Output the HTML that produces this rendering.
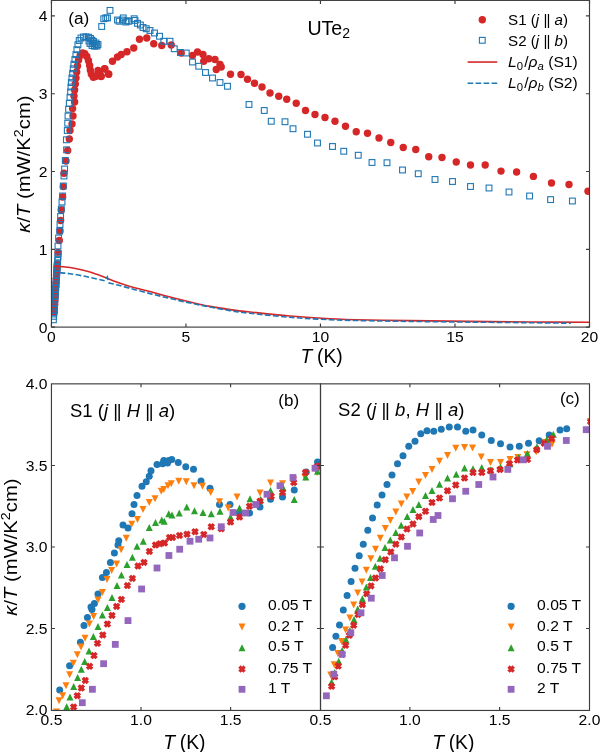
<!DOCTYPE html>
<html><head><meta charset="utf-8"><title>UTe2 thermal conductivity</title>
<style>html,body{margin:0;padding:0;background:#fff;}svg{display:block;will-change:transform;}text{font-family:"Liberation Sans", sans-serif;}</style>
</head><body><svg width="600" height="752" viewBox="0 0 600 752" font-family='"Liberation Sans", sans-serif' fill="#000"><clipPath id="ca"><rect x="51.45" y="0.4" width="538.05" height="326.7"/></clipPath><g clip-path="url(#ca)"><circle cx="54.2" cy="312" r="3.7" fill="#d62728"/><circle cx="54.42" cy="308.31" r="3.7" fill="#d62728"/><circle cx="54.63" cy="304.61" r="3.7" fill="#d62728"/><circle cx="54.85" cy="300.92" r="3.7" fill="#d62728"/><circle cx="55.08" cy="297.23" r="3.7" fill="#d62728"/><circle cx="55.31" cy="293.53" r="3.7" fill="#d62728"/><circle cx="55.55" cy="289.84" r="3.7" fill="#d62728"/><circle cx="55.79" cy="286.15" r="3.7" fill="#d62728"/><circle cx="56.02" cy="282.46" r="3.7" fill="#d62728"/><circle cx="56.26" cy="278.76" r="3.7" fill="#d62728"/><circle cx="56.5" cy="275.07" r="3.7" fill="#d62728"/><circle cx="56.74" cy="271.38" r="3.7" fill="#d62728"/><circle cx="56.99" cy="267.69" r="3.7" fill="#d62728"/><circle cx="57.23" cy="264" r="3.7" fill="#d62728"/><circle cx="58" cy="252.4" r="3.7" fill="#d62728"/><circle cx="59.3" cy="240.5" r="3.7" fill="#d62728"/><circle cx="60" cy="231" r="3.7" fill="#d62728"/><circle cx="60.6" cy="220.5" r="3.7" fill="#d62728"/><circle cx="61.3" cy="210" r="3.7" fill="#d62728"/><circle cx="62.6" cy="197" r="3.7" fill="#d62728"/><circle cx="63.3" cy="186.6" r="3.7" fill="#d62728"/><circle cx="64" cy="173.3" r="3.7" fill="#d62728"/><circle cx="66" cy="161" r="3.7" fill="#d62728"/><circle cx="67.7" cy="150.5" r="3.7" fill="#d62728"/><circle cx="69.3" cy="139" r="3.7" fill="#d62728"/><circle cx="70" cy="130.5" r="3.7" fill="#d62728"/><circle cx="72" cy="124" r="3.7" fill="#d62728"/><circle cx="73" cy="116" r="3.7" fill="#d62728"/><circle cx="72.6" cy="108.6" r="3.7" fill="#d62728"/><circle cx="74.6" cy="102" r="3.7" fill="#d62728"/><circle cx="74" cy="96" r="3.7" fill="#d62728"/><circle cx="74.6" cy="90" r="3.7" fill="#d62728"/><circle cx="75.3" cy="84" r="3.7" fill="#d62728"/><circle cx="76" cy="78" r="3.7" fill="#d62728"/><circle cx="76.7" cy="72" r="3.7" fill="#d62728"/><circle cx="77.5" cy="66" r="3.7" fill="#d62728"/><circle cx="78.6" cy="60" r="3.7" fill="#d62728"/><circle cx="80.2" cy="55.5" r="3.7" fill="#d62728"/><circle cx="82.7" cy="53" r="3.7" fill="#d62728"/><circle cx="84.8" cy="53.8" r="3.7" fill="#d62728"/><circle cx="86.8" cy="56.5" r="3.7" fill="#d62728"/><circle cx="88.5" cy="60.8" r="3.7" fill="#d62728"/><circle cx="89.6" cy="65.5" r="3.7" fill="#d62728"/><circle cx="90.3" cy="70" r="3.7" fill="#d62728"/><circle cx="91.3" cy="74" r="3.7" fill="#d62728"/><circle cx="93.3" cy="77.2" r="3.7" fill="#d62728"/><circle cx="95.5" cy="76.5" r="3.7" fill="#d62728"/><circle cx="98" cy="70.5" r="3.7" fill="#d62728"/><circle cx="101" cy="76.5" r="3.7" fill="#d62728"/><circle cx="99.5" cy="74" r="3.7" fill="#d62728"/><circle cx="105" cy="69" r="3.7" fill="#d62728"/><circle cx="104.5" cy="68.75" r="3.7" fill="#d62728"/><circle cx="108.5" cy="74" r="3.7" fill="#d62728"/><circle cx="101.25" cy="76.25" r="3.7" fill="#d62728"/><circle cx="108.75" cy="74.25" r="3.7" fill="#d62728"/><circle cx="112.5" cy="61.25" r="3.7" fill="#d62728"/><circle cx="117.5" cy="57" r="3.7" fill="#d62728"/><circle cx="121.25" cy="54.5" r="3.7" fill="#d62728"/><circle cx="127" cy="51.75" r="3.7" fill="#d62728"/><circle cx="133.75" cy="48" r="3.7" fill="#d62728"/><circle cx="139.5" cy="39.25" r="3.7" fill="#d62728"/><circle cx="146.75" cy="38" r="3.7" fill="#d62728"/><circle cx="153.75" cy="43.75" r="3.7" fill="#d62728"/><circle cx="161.75" cy="45.5" r="3.7" fill="#d62728"/><circle cx="171.25" cy="45" r="3.7" fill="#d62728"/><circle cx="181.25" cy="53" r="3.7" fill="#d62728"/><circle cx="192.5" cy="55.5" r="3.7" fill="#d62728"/><circle cx="197.5" cy="52" r="3.7" fill="#d62728"/><circle cx="203" cy="54.5" r="3.7" fill="#d62728"/><circle cx="203.75" cy="61.25" r="3.7" fill="#d62728"/><circle cx="208.75" cy="58.75" r="3.7" fill="#d62728"/><circle cx="215" cy="59.5" r="3.7" fill="#d62728"/><circle cx="220" cy="64.5" r="3.7" fill="#d62728"/><circle cx="216.25" cy="69.5" r="3.7" fill="#d62728"/><circle cx="221.25" cy="67" r="3.7" fill="#d62728"/><circle cx="230.5" cy="74.25" r="3.7" fill="#d62728"/><circle cx="241" cy="74.5" r="3.7" fill="#d62728"/><circle cx="247.5" cy="79.25" r="3.7" fill="#d62728"/><circle cx="254.5" cy="83.25" r="3.7" fill="#d62728"/><circle cx="262" cy="87" r="3.7" fill="#d62728"/><circle cx="270" cy="93" r="3.7" fill="#d62728"/><circle cx="278.75" cy="96.25" r="3.7" fill="#d62728"/><circle cx="286.75" cy="99.25" r="3.7" fill="#d62728"/><circle cx="296.25" cy="103.25" r="3.7" fill="#d62728"/><circle cx="305.5" cy="110.5" r="3.7" fill="#d62728"/><circle cx="315" cy="114.5" r="3.7" fill="#d62728"/><circle cx="325" cy="117.5" r="3.7" fill="#d62728"/><circle cx="335" cy="121.25" r="3.7" fill="#d62728"/><circle cx="345.5" cy="126.25" r="3.7" fill="#d62728"/><circle cx="356.25" cy="131.75" r="3.7" fill="#d62728"/><circle cx="367.5" cy="133.25" r="3.7" fill="#d62728"/><circle cx="379" cy="138" r="3.7" fill="#d62728"/><circle cx="390.75" cy="142.5" r="3.7" fill="#d62728"/><circle cx="403.25" cy="147.5" r="3.7" fill="#d62728"/><circle cx="415.75" cy="149.5" r="3.7" fill="#d62728"/><circle cx="428.75" cy="156.75" r="3.7" fill="#d62728"/><circle cx="442" cy="157.5" r="3.7" fill="#d62728"/><circle cx="456.25" cy="162" r="3.7" fill="#d62728"/><circle cx="470.5" cy="165" r="3.7" fill="#d62728"/><circle cx="485.2" cy="165" r="3.7" fill="#d62728"/><circle cx="501" cy="171.1" r="3.7" fill="#d62728"/><circle cx="516.6" cy="172" r="3.7" fill="#d62728"/><circle cx="533.4" cy="176.4" r="3.7" fill="#d62728"/><circle cx="551.5" cy="183" r="3.7" fill="#d62728"/><circle cx="569" cy="184.5" r="3.7" fill="#d62728"/><circle cx="588" cy="191.2" r="3.7" fill="#d62728"/><rect x="50.5" y="316.9" width="5.8" height="5.8" fill="none" stroke="#1f77b4" stroke-width="1.1"/><rect x="50.75" y="313.41" width="5.8" height="5.8" fill="none" stroke="#1f77b4" stroke-width="1.1"/><rect x="51" y="309.92" width="5.8" height="5.8" fill="none" stroke="#1f77b4" stroke-width="1.1"/><rect x="51.26" y="306.43" width="5.8" height="5.8" fill="none" stroke="#1f77b4" stroke-width="1.1"/><rect x="51.51" y="302.94" width="5.8" height="5.8" fill="none" stroke="#1f77b4" stroke-width="1.1"/><rect x="51.76" y="299.45" width="5.8" height="5.8" fill="none" stroke="#1f77b4" stroke-width="1.1"/><rect x="52.01" y="295.95" width="5.8" height="5.8" fill="none" stroke="#1f77b4" stroke-width="1.1"/><rect x="52.27" y="292.46" width="5.8" height="5.8" fill="none" stroke="#1f77b4" stroke-width="1.1"/><rect x="52.52" y="288.97" width="5.8" height="5.8" fill="none" stroke="#1f77b4" stroke-width="1.1"/><rect x="52.77" y="285.48" width="5.8" height="5.8" fill="none" stroke="#1f77b4" stroke-width="1.1"/><rect x="53.02" y="281.99" width="5.8" height="5.8" fill="none" stroke="#1f77b4" stroke-width="1.1"/><rect x="53.28" y="278.5" width="5.8" height="5.8" fill="none" stroke="#1f77b4" stroke-width="1.1"/><rect x="53.53" y="275.01" width="5.8" height="5.8" fill="none" stroke="#1f77b4" stroke-width="1.1"/><rect x="53.78" y="271.52" width="5.8" height="5.8" fill="none" stroke="#1f77b4" stroke-width="1.1"/><rect x="54.03" y="268.03" width="5.8" height="5.8" fill="none" stroke="#1f77b4" stroke-width="1.1"/><rect x="54.28" y="264.54" width="5.8" height="5.8" fill="none" stroke="#1f77b4" stroke-width="1.1"/><rect x="54.54" y="261.05" width="5.8" height="5.8" fill="none" stroke="#1f77b4" stroke-width="1.1"/><rect x="54.79" y="257.55" width="5.8" height="5.8" fill="none" stroke="#1f77b4" stroke-width="1.1"/><rect x="55.04" y="254.06" width="5.8" height="5.8" fill="none" stroke="#1f77b4" stroke-width="1.1"/><rect x="55.29" y="250.57" width="5.8" height="5.8" fill="none" stroke="#1f77b4" stroke-width="1.1"/><rect x="55.1" y="243.1" width="5.8" height="5.8" fill="none" stroke="#1f77b4" stroke-width="1.1"/><rect x="55.7" y="235.1" width="5.8" height="5.8" fill="none" stroke="#1f77b4" stroke-width="1.1"/><rect x="56.8" y="228.1" width="5.8" height="5.8" fill="none" stroke="#1f77b4" stroke-width="1.1"/><rect x="57.1" y="221.6" width="5.8" height="5.8" fill="none" stroke="#1f77b4" stroke-width="1.1"/><rect x="57.7" y="213.6" width="5.8" height="5.8" fill="none" stroke="#1f77b4" stroke-width="1.1"/><rect x="58.4" y="206.1" width="5.8" height="5.8" fill="none" stroke="#1f77b4" stroke-width="1.1"/><rect x="59.1" y="199.1" width="5.8" height="5.8" fill="none" stroke="#1f77b4" stroke-width="1.1"/><rect x="59.7" y="193.1" width="5.8" height="5.8" fill="none" stroke="#1f77b4" stroke-width="1.1"/><rect x="60.4" y="183.1" width="5.8" height="5.8" fill="none" stroke="#1f77b4" stroke-width="1.1"/><rect x="61.1" y="173.1" width="5.8" height="5.8" fill="none" stroke="#1f77b4" stroke-width="1.1"/><rect x="61.7" y="166.1" width="5.8" height="5.8" fill="none" stroke="#1f77b4" stroke-width="1.1"/><rect x="62.4" y="157.6" width="5.8" height="5.8" fill="none" stroke="#1f77b4" stroke-width="1.1"/><rect x="63.7" y="146.9" width="5.8" height="5.8" fill="none" stroke="#1f77b4" stroke-width="1.1"/><rect x="63.5" y="136.9" width="5.8" height="5.8" fill="none" stroke="#1f77b4" stroke-width="1.1"/><rect x="64.4" y="127.6" width="5.8" height="5.8" fill="none" stroke="#1f77b4" stroke-width="1.1"/><rect x="64.8" y="120.3" width="5.8" height="5.8" fill="none" stroke="#1f77b4" stroke-width="1.1"/><rect x="65.1" y="113.1" width="5.8" height="5.8" fill="none" stroke="#1f77b4" stroke-width="1.1"/><rect x="65.7" y="106.4" width="5.8" height="5.8" fill="none" stroke="#1f77b4" stroke-width="1.1"/><rect x="66.4" y="100.4" width="5.8" height="5.8" fill="none" stroke="#1f77b4" stroke-width="1.1"/><rect x="67.1" y="94.4" width="5.8" height="5.8" fill="none" stroke="#1f77b4" stroke-width="1.1"/><rect x="67.7" y="89.1" width="5.8" height="5.8" fill="none" stroke="#1f77b4" stroke-width="1.1"/><rect x="68.1" y="84.1" width="5.8" height="5.8" fill="none" stroke="#1f77b4" stroke-width="1.1"/><rect x="68.4" y="79.7" width="5.8" height="5.8" fill="none" stroke="#1f77b4" stroke-width="1.1"/><rect x="69" y="75.1" width="5.8" height="5.8" fill="none" stroke="#1f77b4" stroke-width="1.1"/><rect x="69.7" y="70.5" width="5.8" height="5.8" fill="none" stroke="#1f77b4" stroke-width="1.1"/><rect x="70.3" y="65.9" width="5.8" height="5.8" fill="none" stroke="#1f77b4" stroke-width="1.1"/><rect x="71" y="61.35" width="5.8" height="5.8" fill="none" stroke="#1f77b4" stroke-width="1.1"/><rect x="72" y="56.6" width="5.8" height="5.8" fill="none" stroke="#1f77b4" stroke-width="1.1"/><rect x="73" y="51.8" width="5.8" height="5.8" fill="none" stroke="#1f77b4" stroke-width="1.1"/><rect x="74" y="46.8" width="5.8" height="5.8" fill="none" stroke="#1f77b4" stroke-width="1.1"/><rect x="75" y="41.8" width="5.8" height="5.8" fill="none" stroke="#1f77b4" stroke-width="1.1"/><rect x="76.3" y="37.6" width="5.8" height="5.8" fill="none" stroke="#1f77b4" stroke-width="1.1"/><rect x="78.1" y="35.1" width="5.8" height="5.8" fill="none" stroke="#1f77b4" stroke-width="1.1"/><rect x="80.6" y="34.1" width="5.8" height="5.8" fill="none" stroke="#1f77b4" stroke-width="1.1"/><rect x="83.1" y="33.9" width="5.8" height="5.8" fill="none" stroke="#1f77b4" stroke-width="1.1"/><rect x="85.6" y="34.3" width="5.8" height="5.8" fill="none" stroke="#1f77b4" stroke-width="1.1"/><rect x="87.6" y="35.6" width="5.8" height="5.8" fill="none" stroke="#1f77b4" stroke-width="1.1"/><rect x="89.1" y="37.3" width="5.8" height="5.8" fill="none" stroke="#1f77b4" stroke-width="1.1"/><rect x="90.6" y="38.6" width="5.8" height="5.8" fill="none" stroke="#1f77b4" stroke-width="1.1"/><rect x="93.1" y="40.1" width="5.8" height="5.8" fill="none" stroke="#1f77b4" stroke-width="1.1"/><rect x="95.1" y="41.6" width="5.8" height="5.8" fill="none" stroke="#1f77b4" stroke-width="1.1"/><rect x="94.1" y="43.1" width="5.8" height="5.8" fill="none" stroke="#1f77b4" stroke-width="1.1"/><rect x="91.6" y="43.3" width="5.8" height="5.8" fill="none" stroke="#1f77b4" stroke-width="1.1"/><rect x="89.1" y="42.6" width="5.8" height="5.8" fill="none" stroke="#1f77b4" stroke-width="1.1"/><rect x="87.1" y="40.6" width="5.8" height="5.8" fill="none" stroke="#1f77b4" stroke-width="1.1"/><rect x="86.1" y="38.1" width="5.8" height="5.8" fill="none" stroke="#1f77b4" stroke-width="1.1"/><rect x="90.1" y="40.6" width="5.8" height="5.8" fill="none" stroke="#1f77b4" stroke-width="1.1"/><rect x="93.1" y="42.1" width="5.8" height="5.8" fill="none" stroke="#1f77b4" stroke-width="1.1"/><rect x="98.8" y="23.6" width="5.8" height="5.8" fill="none" stroke="#1f77b4" stroke-width="1.1"/><rect x="100.85" y="15.85" width="5.8" height="5.8" fill="none" stroke="#1f77b4" stroke-width="1.1"/><rect x="102.9" y="15" width="5.8" height="5.8" fill="none" stroke="#1f77b4" stroke-width="1.1"/><rect x="104.6" y="15" width="5.8" height="5.8" fill="none" stroke="#1f77b4" stroke-width="1.1"/><rect x="107.1" y="7.5" width="5.8" height="5.8" fill="none" stroke="#1f77b4" stroke-width="1.1"/><rect x="114.6" y="17.1" width="5.8" height="5.8" fill="none" stroke="#1f77b4" stroke-width="1.1"/><rect x="116.3" y="18.35" width="5.8" height="5.8" fill="none" stroke="#1f77b4" stroke-width="1.1"/><rect x="120.4" y="15" width="5.8" height="5.8" fill="none" stroke="#1f77b4" stroke-width="1.1"/><rect x="119.6" y="17.1" width="5.8" height="5.8" fill="none" stroke="#1f77b4" stroke-width="1.1"/><rect x="122.9" y="19.1" width="5.8" height="5.8" fill="none" stroke="#1f77b4" stroke-width="1.1"/><rect x="124.1" y="17.9" width="5.8" height="5.8" fill="none" stroke="#1f77b4" stroke-width="1.1"/><rect x="125.85" y="18.35" width="5.8" height="5.8" fill="none" stroke="#1f77b4" stroke-width="1.1"/><rect x="131.3" y="15.85" width="5.8" height="5.8" fill="none" stroke="#1f77b4" stroke-width="1.1"/><rect x="132.1" y="17.5" width="5.8" height="5.8" fill="none" stroke="#1f77b4" stroke-width="1.1"/><rect x="134.6" y="20.4" width="5.8" height="5.8" fill="none" stroke="#1f77b4" stroke-width="1.1"/><rect x="137.5" y="22.1" width="5.8" height="5.8" fill="none" stroke="#1f77b4" stroke-width="1.1"/><rect x="140.1" y="24.6" width="5.8" height="5.8" fill="none" stroke="#1f77b4" stroke-width="1.1"/><rect x="143.35" y="25.85" width="5.8" height="5.8" fill="none" stroke="#1f77b4" stroke-width="1.1"/><rect x="147.1" y="27.6" width="5.8" height="5.8" fill="none" stroke="#1f77b4" stroke-width="1.1"/><rect x="151.6" y="30.1" width="5.8" height="5.8" fill="none" stroke="#1f77b4" stroke-width="1.1"/><rect x="156.6" y="33.35" width="5.8" height="5.8" fill="none" stroke="#1f77b4" stroke-width="1.1"/><rect x="160.85" y="38.35" width="5.8" height="5.8" fill="none" stroke="#1f77b4" stroke-width="1.1"/><rect x="167.1" y="38.35" width="5.8" height="5.8" fill="none" stroke="#1f77b4" stroke-width="1.1"/><rect x="171.35" y="45.85" width="5.8" height="5.8" fill="none" stroke="#1f77b4" stroke-width="1.1"/><rect x="177.6" y="49.6" width="5.8" height="5.8" fill="none" stroke="#1f77b4" stroke-width="1.1"/><rect x="183.35" y="50.1" width="5.8" height="5.8" fill="none" stroke="#1f77b4" stroke-width="1.1"/><rect x="189.6" y="59.1" width="5.8" height="5.8" fill="none" stroke="#1f77b4" stroke-width="1.1"/><rect x="195.85" y="63.35" width="5.8" height="5.8" fill="none" stroke="#1f77b4" stroke-width="1.1"/><rect x="202.6" y="69.6" width="5.8" height="5.8" fill="none" stroke="#1f77b4" stroke-width="1.1"/><rect x="209.6" y="75.1" width="5.8" height="5.8" fill="none" stroke="#1f77b4" stroke-width="1.1"/><rect x="217.1" y="79.6" width="5.8" height="5.8" fill="none" stroke="#1f77b4" stroke-width="1.1"/><rect x="224.6" y="83.35" width="5.8" height="5.8" fill="none" stroke="#1f77b4" stroke-width="1.1"/><rect x="246.1" y="101.6" width="5.8" height="5.8" fill="none" stroke="#1f77b4" stroke-width="1.1"/><rect x="261.35" y="107.6" width="5.8" height="5.8" fill="none" stroke="#1f77b4" stroke-width="1.1"/><rect x="268.35" y="118.35" width="5.8" height="5.8" fill="none" stroke="#1f77b4" stroke-width="1.1"/><rect x="282.1" y="118.85" width="5.8" height="5.8" fill="none" stroke="#1f77b4" stroke-width="1.1"/><rect x="290.1" y="125.85" width="5.8" height="5.8" fill="none" stroke="#1f77b4" stroke-width="1.1"/><rect x="304.6" y="131.35" width="5.8" height="5.8" fill="none" stroke="#1f77b4" stroke-width="1.1"/><rect x="314.6" y="140.1" width="5.8" height="5.8" fill="none" stroke="#1f77b4" stroke-width="1.1"/><rect x="329.6" y="143.6" width="5.8" height="5.8" fill="none" stroke="#1f77b4" stroke-width="1.1"/><rect x="340.85" y="148.35" width="5.8" height="5.8" fill="none" stroke="#1f77b4" stroke-width="1.1"/><rect x="355.35" y="152.35" width="5.8" height="5.8" fill="none" stroke="#1f77b4" stroke-width="1.1"/><rect x="369.1" y="159.6" width="5.8" height="5.8" fill="none" stroke="#1f77b4" stroke-width="1.1"/><rect x="384.1" y="159.85" width="5.8" height="5.8" fill="none" stroke="#1f77b4" stroke-width="1.1"/><rect x="399.6" y="167.1" width="5.8" height="5.8" fill="none" stroke="#1f77b4" stroke-width="1.1"/><rect x="415.35" y="170.85" width="5.8" height="5.8" fill="none" stroke="#1f77b4" stroke-width="1.1"/><rect x="432.1" y="176.6" width="5.8" height="5.8" fill="none" stroke="#1f77b4" stroke-width="1.1"/><rect x="449.6" y="178.6" width="5.8" height="5.8" fill="none" stroke="#1f77b4" stroke-width="1.1"/><rect x="467.6" y="183.6" width="5.8" height="5.8" fill="none" stroke="#1f77b4" stroke-width="1.1"/><rect x="486.1" y="185.1" width="5.8" height="5.8" fill="none" stroke="#1f77b4" stroke-width="1.1"/><rect x="506.1" y="189.1" width="5.8" height="5.8" fill="none" stroke="#1f77b4" stroke-width="1.1"/><rect x="526.7" y="193.1" width="5.8" height="5.8" fill="none" stroke="#1f77b4" stroke-width="1.1"/><rect x="547.7" y="196.7" width="5.8" height="5.8" fill="none" stroke="#1f77b4" stroke-width="1.1"/><rect x="569.5" y="198.1" width="5.8" height="5.8" fill="none" stroke="#1f77b4" stroke-width="1.1"/><path d="M53.5 266.3C55.13 266.37 59.43 266.3 63.3 266.7C67.17 267.1 72.25 267.82 76.7 268.7C81.15 269.58 85.57 270.67 90 272C94.43 273.33 98.85 275.03 103.3 276.7C107.75 278.37 112.25 280.38 116.7 282C121.15 283.62 124.45 284.8 130 286.4C135.55 288 143.33 289.83 150 291.6C156.67 293.37 163.33 295.27 170 297C176.67 298.73 183.33 300.43 190 302C196.67 303.57 203.33 305.13 210 306.4C216.67 307.67 223.33 308.67 230 309.6C236.67 310.53 240 310.93 250 312C260 313.07 276.67 314.88 290 316C303.33 317.12 316.67 318.03 330 318.7C343.33 319.37 356.67 319.68 370 320C383.33 320.32 393.33 320.37 410 320.6C426.67 320.83 450 321.17 470 321.4C490 321.63 510.08 321.85 530 322C549.92 322.15 579.58 322.25 589.5 322.3" fill="none" stroke="#d62728" stroke-width="1.6"/><path d="M59.8 272.7C61.5 272.87 66.08 273.15 70 273.7C73.92 274.25 78.85 275.12 83.3 276C87.75 276.88 93.13 278.22 96.7 279C100.27 279.78 103.37 280.42 104.7 280.7L107.3 276.9L108.9 282.9C110.2 283.2 113.18 283.8 116.7 284.7C120.22 285.6 124.45 286.82 130 288.3C135.55 289.78 143.33 291.92 150 293.6C156.67 295.28 163.33 296.83 170 298.4C176.67 299.97 183.33 301.57 190 303C196.67 304.43 203.33 305.73 210 307C216.67 308.27 223.33 309.55 230 310.6C236.67 311.65 240 312.18 250 313.3C260 314.42 276.67 316.23 290 317.3C303.33 318.37 316.67 319.12 330 319.7C343.33 320.28 356.67 320.52 370 320.8C383.33 321.08 393.33 321.18 410 321.4C426.67 321.62 450 321.88 470 322.1C490 322.32 513.2 322.52 530 322.7C546.8 322.88 564 323.12 570.8 323.2" fill="none" stroke="#1f77b4" stroke-width="1.6" stroke-dasharray="5.6 2.4"/></g><rect x="51.45" y="0.4" width="538.05" height="326.7" fill="none" stroke="#3d3d3d" stroke-width="1.15"/><path d="M51.45 327.1v-3.5M51.45 0.4v3.5M185.95 327.1v-3.5M185.95 0.4v3.5M320.45 327.1v-3.5M320.45 0.4v3.5M455 327.1v-3.5M455 0.4v3.5M589.5 327.1v-3.5M589.5 0.4v3.5M51.45 327.1h3.5M589.5 327.1h-3.5M51.45 249.3h3.5M589.5 249.3h-3.5M51.45 171.5h3.5M589.5 171.5h-3.5M51.45 93.7h3.5M589.5 93.7h-3.5M51.45 15.9h3.5M589.5 15.9h-3.5" stroke="#3d3d3d" stroke-width="1.15" fill="none"/><text transform="translate(51.45 341.5) scale(1.08 1)" font-size="14.5" text-anchor="middle" >0</text><text transform="translate(185.95 341.5) scale(1.08 1)" font-size="14.5" text-anchor="middle" >5</text><text transform="translate(320.45 341.5) scale(1.08 1)" font-size="14.5" text-anchor="middle" >10</text><text transform="translate(455 341.5) scale(1.08 1)" font-size="14.5" text-anchor="middle" >15</text><text transform="translate(589.5 341.5) scale(1.08 1)" font-size="14.5" text-anchor="middle" >20</text><text transform="translate(47.4 332.5) scale(1.08 1)" font-size="14.5" text-anchor="end" >0</text><text transform="translate(47.4 254.7) scale(1.08 1)" font-size="14.5" text-anchor="end" >1</text><text transform="translate(47.4 176.9) scale(1.08 1)" font-size="14.5" text-anchor="end" >2</text><text transform="translate(47.4 99.1) scale(1.08 1)" font-size="14.5" text-anchor="end" >3</text><text transform="translate(47.4 21.3) scale(1.08 1)" font-size="14.5" text-anchor="end" >4</text><text x="321.6" y="362.9" font-size="19.3" text-anchor="middle" ><tspan font-style="italic">T</tspan><tspan dx="-0.6"> (K)</tspan></text><text transform="translate(30.2 164.1) rotate(-90) scale(1.095 1)" font-size="18.5" text-anchor="middle"><tspan font-style="italic">κ</tspan>/<tspan font-style="italic">T</tspan> (mW/K<tspan font-size="13" dy="-7">2</tspan><tspan dy="7">cm)</tspan></text><text x="68.2" y="23.9" font-size="17.3" text-anchor="start" >(a)</text><text x="307.4" y="34.6" font-size="19.6">UTe<tspan font-size="14" dy="3.3">2</tspan></text><circle cx="482.3" cy="19.7" r="3.7" fill="#d62728"/><rect x="479.4" y="37.4" width="5.8" height="5.8" fill="none" stroke="#1f77b4" stroke-width="1.1"/><path d="M467.6 62.05H497.3" stroke="#d62728" stroke-width="1.6"/><path d="M467.6 83.25H497.3" stroke="#1f77b4" stroke-width="1.6" stroke-dasharray="5.6 2.4"/><text transform="translate(508.1 25.2) scale(1.045 1)" font-size="14.5">S1 (<tspan font-style="italic">j</tspan> |<tspan dx="-0.9">|</tspan> <tspan font-style="italic">a</tspan>)</text><text transform="translate(508.1 45.8) scale(1.045 1)" font-size="14.5">S2 (<tspan font-style="italic">j</tspan> |<tspan dx="-0.9">|</tspan> <tspan font-style="italic">b</tspan>)</text><text transform="translate(508.1 67.3) scale(1.08 1)" font-size="14.5"><tspan font-style="italic">L</tspan><tspan font-size="10.5" dy="2.5">0</tspan><tspan dy="-2.5" dx="1">/</tspan><tspan font-style="italic">ρ</tspan><tspan font-style="italic" font-size="10.5" dy="2.5">a</tspan><tspan dy="-2.5"> (S1)</tspan></text><text transform="translate(508.1 88.1) scale(1.08 1)" font-size="14.5"><tspan font-style="italic">L</tspan><tspan font-size="10.5" dy="2.5">0</tspan><tspan dy="-2.5" dx="1">/</tspan><tspan font-style="italic">ρ</tspan><tspan font-style="italic" font-size="10.5" dy="2.5">b</tspan><tspan dy="-2.5"> (S2)</tspan></text><clipPath id="cb0"><rect x="51.45" y="383.85" width="269.05" height="326.6"/></clipPath><g clip-path="url(#cb0)"><circle cx="59.7" cy="690" r="3.5" fill="#1f77b4"/><circle cx="69.6" cy="665.7" r="3.5" fill="#1f77b4"/><circle cx="80.4" cy="642.3" r="3.5" fill="#1f77b4"/><circle cx="84" cy="625.4" r="3.5" fill="#1f77b4"/><circle cx="87.4" cy="617.4" r="3.5" fill="#1f77b4"/><circle cx="91" cy="607" r="3.5" fill="#1f77b4"/><circle cx="92" cy="609.6" r="3.5" fill="#1f77b4"/><circle cx="94.4" cy="603.6" r="3.5" fill="#1f77b4"/><circle cx="98" cy="594" r="3.5" fill="#1f77b4"/><circle cx="102.4" cy="577.6" r="3.5" fill="#1f77b4"/><circle cx="106.4" cy="572.4" r="3.5" fill="#1f77b4"/><circle cx="110.4" cy="562.4" r="3.5" fill="#1f77b4"/><circle cx="114.4" cy="553" r="3.5" fill="#1f77b4"/><circle cx="118" cy="545" r="3.5" fill="#1f77b4"/><circle cx="118.75" cy="540.75" r="3.5" fill="#1f77b4"/><circle cx="123" cy="525" r="3.5" fill="#1f77b4"/><circle cx="128" cy="528" r="3.5" fill="#1f77b4"/><circle cx="132" cy="513.75" r="3.5" fill="#1f77b4"/><circle cx="134" cy="504.5" r="3.5" fill="#1f77b4"/><circle cx="137" cy="495.5" r="3.5" fill="#1f77b4"/><circle cx="142" cy="486.25" r="3.5" fill="#1f77b4"/><circle cx="146.25" cy="481.75" r="3.5" fill="#1f77b4"/><circle cx="149.25" cy="476.25" r="3.5" fill="#1f77b4"/><circle cx="151" cy="470.75" r="3.5" fill="#1f77b4"/><circle cx="157" cy="464.5" r="3.5" fill="#1f77b4"/><circle cx="162.5" cy="463.75" r="3.5" fill="#1f77b4"/><circle cx="163.75" cy="460.5" r="3.5" fill="#1f77b4"/><circle cx="167.5" cy="463" r="3.5" fill="#1f77b4"/><circle cx="168.75" cy="460.5" r="3.5" fill="#1f77b4"/><circle cx="171.75" cy="459.5" r="3.5" fill="#1f77b4"/><circle cx="178.25" cy="462.5" r="3.5" fill="#1f77b4"/><circle cx="185.75" cy="466.75" r="3.5" fill="#1f77b4"/><circle cx="193.5" cy="469.25" r="3.5" fill="#1f77b4"/><circle cx="201" cy="481" r="3.5" fill="#1f77b4"/><circle cx="210" cy="488.25" r="3.5" fill="#1f77b4"/><circle cx="219.5" cy="504.5" r="3.5" fill="#1f77b4"/><circle cx="230" cy="504.5" r="3.5" fill="#1f77b4"/><circle cx="239.25" cy="512.5" r="3.5" fill="#1f77b4"/><circle cx="249.5" cy="513" r="3.5" fill="#1f77b4"/><circle cx="260" cy="507" r="3.5" fill="#1f77b4"/><circle cx="270.5" cy="499.25" r="3.5" fill="#1f77b4"/><circle cx="282.5" cy="497" r="3.5" fill="#1f77b4"/><circle cx="294.25" cy="490" r="3.5" fill="#1f77b4"/><circle cx="306.25" cy="472" r="3.5" fill="#1f77b4"/><circle cx="317.5" cy="462" r="3.5" fill="#1f77b4"/><path d="M53 708.5H60L56.5 715.5Z" fill="#ff7f0e"/><path d="M55.5 697.2H62.5L59 704.2Z" fill="#ff7f0e"/><path d="M59.2 692.2H66.2L62.7 699.2Z" fill="#ff7f0e"/><path d="M62.5 682.2H69.5L66 689.2Z" fill="#ff7f0e"/><path d="M66.1 671.2H73.1L69.6 678.2Z" fill="#ff7f0e"/><path d="M69.8 659.8H76.8L73.3 666.8Z" fill="#ff7f0e"/><path d="M73.8 651.2H80.8L77.3 658.2Z" fill="#ff7f0e"/><path d="M77.5 643.5H84.5L81 650.5Z" fill="#ff7f0e"/><path d="M81.5 634.8H88.5L85 641.8Z" fill="#ff7f0e"/><path d="M85.9 620.5H92.9L89.4 627.5Z" fill="#ff7f0e"/><path d="M90.1 613.1H97.1L93.6 620.1Z" fill="#ff7f0e"/><path d="M94.5 596.5H101.5L98 603.5Z" fill="#ff7f0e"/><path d="M98.9 588.9H105.9L102.4 595.9Z" fill="#ff7f0e"/><path d="M103.5 576.1H110.5L107 583.1Z" fill="#ff7f0e"/><path d="M108.1 567.1H115.1L111.6 574.1Z" fill="#ff7f0e"/><path d="M113.1 560.5H120.1L116.6 567.5Z" fill="#ff7f0e"/><path d="M117.6 546.3H124.6L121.1 553.3Z" fill="#ff7f0e"/><path d="M122.75 534.75H129.75L126.25 541.75Z" fill="#ff7f0e"/><path d="M128.25 520.75H135.25L131.75 527.75Z" fill="#ff7f0e"/><path d="M134 516H141L137.5 523Z" fill="#ff7f0e"/><path d="M139.5 506H146.5L143 513Z" fill="#ff7f0e"/><path d="M145.75 499H152.75L149.25 506Z" fill="#ff7f0e"/><path d="M151.5 495.25H158.5L155 502.25Z" fill="#ff7f0e"/><path d="M157.75 487.75H164.75L161.25 494.75Z" fill="#ff7f0e"/><path d="M160.25 486H167.25L163.75 493Z" fill="#ff7f0e"/><path d="M164.5 482.25H171.5L168 489.25Z" fill="#ff7f0e"/><path d="M167.75 480.25H174.75L171.25 487.25Z" fill="#ff7f0e"/><path d="M175.25 477.75H182.25L178.75 484.75Z" fill="#ff7f0e"/><path d="M182.75 478.25H189.75L186.25 485.25Z" fill="#ff7f0e"/><path d="M190.5 482.25H197.5L194 489.25Z" fill="#ff7f0e"/><path d="M199 482.75H206L202.5 489.75Z" fill="#ff7f0e"/><path d="M207.25 489H214.25L210.75 496Z" fill="#ff7f0e"/><path d="M216 498.25H223L219.5 505.25Z" fill="#ff7f0e"/><path d="M224.75 504.5H231.75L228.25 511.5Z" fill="#ff7f0e"/><path d="M233.5 493.5H240.5L237 500.5Z" fill="#ff7f0e"/><path d="M256.5 489.5H263.5L260 496.5Z" fill="#ff7f0e"/><path d="M267 479.5H274L270.5 486.5Z" fill="#ff7f0e"/><path d="M279 480.25H286L282.5 487.25Z" fill="#ff7f0e"/><path d="M290.25 476.5H297.25L293.75 483.5Z" fill="#ff7f0e"/><path d="M301.5 474H308.5L305 481Z" fill="#ff7f0e"/><path d="M313.5 469H320.5L317 476Z" fill="#ff7f0e"/><path d="M63.2 710.2H70.2L66.7 703.2Z" fill="#2ca02c"/><path d="M66.5 700.5H73.5L70 693.5Z" fill="#2ca02c"/><path d="M70.2 689.9H77.2L73.7 682.9Z" fill="#2ca02c"/><path d="M74.1 681.1H81.1L77.6 674.1Z" fill="#2ca02c"/><path d="M77.8 672.8H84.8L81.3 665.8Z" fill="#2ca02c"/><path d="M81.2 665.1H88.2L84.7 658.1Z" fill="#2ca02c"/><path d="M85.5 654.5H92.5L89 647.5Z" fill="#2ca02c"/><path d="M89.9 640.1H96.9L93.4 633.1Z" fill="#2ca02c"/><path d="M94.5 629.9H101.5L98 622.9Z" fill="#2ca02c"/><path d="M98.9 618.5H105.9L102.4 611.5Z" fill="#2ca02c"/><path d="M103.9 610.9H110.9L107.4 603.9Z" fill="#2ca02c"/><path d="M108.5 601.1H115.5L112 594.1Z" fill="#2ca02c"/><path d="M113.5 588.9H120.5L117 581.9Z" fill="#2ca02c"/><path d="M117.9 578.5H124.9L121.4 571.5Z" fill="#2ca02c"/><path d="M123.5 567.9H130.5L127 560.9Z" fill="#2ca02c"/><path d="M128.9 560.7H135.9L132.4 553.7Z" fill="#2ca02c"/><path d="M133.5 549.75H140.5L137 542.75Z" fill="#2ca02c"/><path d="M139.75 544.75H146.75L143.25 537.75Z" fill="#2ca02c"/><path d="M145.75 531H152.75L149.25 524Z" fill="#2ca02c"/><path d="M152 526H159L155.5 519Z" fill="#2ca02c"/><path d="M158.25 523.5H165.25L161.75 516.5Z" fill="#2ca02c"/><path d="M160.75 524.75H167.75L164.25 517.75Z" fill="#2ca02c"/><path d="M165.25 517.25H172.25L168.75 510.25Z" fill="#2ca02c"/><path d="M168.5 518.5H175.5L172 511.5Z" fill="#2ca02c"/><path d="M175.75 516.5H182.75L179.25 509.5Z" fill="#2ca02c"/><path d="M183.25 510.5H190.25L186.75 503.5Z" fill="#2ca02c"/><path d="M191 514.25H198L194.5 507.25Z" fill="#2ca02c"/><path d="M199.5 516H206.5L203 509Z" fill="#2ca02c"/><path d="M207.75 517.25H214.75L211.25 510.25Z" fill="#2ca02c"/><path d="M216.5 514.75H223.5L220 507.75Z" fill="#2ca02c"/><path d="M227 520.5H234L230.5 513.5Z" fill="#2ca02c"/><path d="M236 511.5H243L239.5 504.5Z" fill="#2ca02c"/><path d="M246.5 502.25H253.5L250 495.25Z" fill="#2ca02c"/><path d="M257 503H264L260.5 496Z" fill="#2ca02c"/><path d="M267 494H274L270.5 487Z" fill="#2ca02c"/><path d="M279.5 491H286.5L283 484Z" fill="#2ca02c"/><path d="M290.75 503H297.75L294.25 496Z" fill="#2ca02c"/><path d="M302.25 480.5H309.25L305.75 473.5Z" fill="#2ca02c"/><path d="M314 474.75H321L317.5 467.75Z" fill="#2ca02c"/><path d="M72.17 704.15 L73.6 705.58 L75.02 704.15 L76.45 705.58 L75.02 707 L76.45 708.42 L75.02 709.85 L73.6 708.42 L72.17 709.85 L70.75 708.42 L72.17 707 L70.75 705.58Z" fill="#d62728" stroke="#d62728" stroke-width="1.3" stroke-linejoin="miter"/><path d="M75.88 692.85 L77.3 694.28 L78.72 692.85 L80.15 694.28 L78.72 695.7 L80.15 697.12 L78.72 698.55 L77.3 697.12 L75.88 698.55 L74.45 697.12 L75.88 695.7 L74.45 694.28Z" fill="#d62728" stroke="#d62728" stroke-width="1.3" stroke-linejoin="miter"/><path d="M79.88 685.15 L81.3 686.58 L82.72 685.15 L84.15 686.58 L82.72 688 L84.15 689.42 L82.72 690.85 L81.3 689.42 L79.88 690.85 L78.45 689.42 L79.88 688 L78.45 686.58Z" fill="#d62728" stroke="#d62728" stroke-width="1.3" stroke-linejoin="miter"/><path d="M83.88 677.55 L85.3 678.98 L86.72 677.55 L88.15 678.98 L86.72 680.4 L88.15 681.82 L86.72 683.25 L85.3 681.82 L83.88 683.25 L82.45 681.82 L83.88 680.4 L82.45 678.98Z" fill="#d62728" stroke="#d62728" stroke-width="1.3" stroke-linejoin="miter"/><path d="M88.17 663.45 L89.6 664.88 L91.02 663.45 L92.45 664.88 L91.02 666.3 L92.45 667.72 L91.02 669.15 L89.6 667.72 L88.17 669.15 L86.75 667.72 L88.17 666.3 L86.75 664.88Z" fill="#d62728" stroke="#d62728" stroke-width="1.3" stroke-linejoin="miter"/><path d="M92.58 652.75 L94 654.18 L95.42 652.75 L96.85 654.18 L95.42 655.6 L96.85 657.02 L95.42 658.45 L94 657.02 L92.58 658.45 L91.15 657.02 L92.58 655.6 L91.15 654.18Z" fill="#d62728" stroke="#d62728" stroke-width="1.3" stroke-linejoin="miter"/><path d="M96.08 640.45 L97.5 641.88 L98.92 640.45 L100.35 641.88 L98.92 643.3 L100.35 644.72 L98.92 646.15 L97.5 644.72 L96.08 646.15 L94.65 644.72 L96.08 643.3 L94.65 641.88Z" fill="#d62728" stroke="#d62728" stroke-width="1.3" stroke-linejoin="miter"/><path d="M101.38 632.15 L102.8 633.58 L104.22 632.15 L105.65 633.58 L104.22 635 L105.65 636.42 L104.22 637.85 L102.8 636.42 L101.38 637.85 L99.95 636.42 L101.38 635 L99.95 633.58Z" fill="#d62728" stroke="#d62728" stroke-width="1.3" stroke-linejoin="miter"/><path d="M105.98 621.15 L107.4 622.58 L108.83 621.15 L110.25 622.58 L108.83 624 L110.25 625.42 L108.83 626.85 L107.4 625.42 L105.98 626.85 L104.55 625.42 L105.98 624 L104.55 622.58Z" fill="#d62728" stroke="#d62728" stroke-width="1.3" stroke-linejoin="miter"/><path d="M110.58 612.55 L112 613.98 L113.42 612.55 L114.85 613.98 L113.42 615.4 L114.85 616.82 L113.42 618.25 L112 616.82 L110.58 618.25 L109.15 616.82 L110.58 615.4 L109.15 613.98Z" fill="#d62728" stroke="#d62728" stroke-width="1.3" stroke-linejoin="miter"/><path d="M115.17 603.55 L116.6 604.98 L118.02 603.55 L119.45 604.98 L118.02 606.4 L119.45 607.82 L118.02 609.25 L116.6 607.82 L115.17 609.25 L113.75 607.82 L115.17 606.4 L113.75 604.98Z" fill="#d62728" stroke="#d62728" stroke-width="1.3" stroke-linejoin="miter"/><path d="M119.98 596.55 L121.4 597.98 L122.83 596.55 L124.25 597.98 L122.83 599.4 L124.25 600.82 L122.83 602.25 L121.4 600.82 L119.98 602.25 L118.55 600.82 L119.98 599.4 L118.55 597.98Z" fill="#d62728" stroke="#d62728" stroke-width="1.3" stroke-linejoin="miter"/><path d="M125.98 582.75 L127.4 584.18 L128.83 582.75 L130.25 584.18 L128.83 585.6 L130.25 587.02 L128.83 588.45 L127.4 587.02 L125.98 588.45 L124.55 587.02 L125.98 585.6 L124.55 584.18Z" fill="#d62728" stroke="#d62728" stroke-width="1.3" stroke-linejoin="miter"/><path d="M130.97 575.55 L132.4 576.98 L133.83 575.55 L135.25 576.98 L133.83 578.4 L135.25 579.82 L133.83 581.25 L132.4 579.82 L130.97 581.25 L129.55 579.82 L130.97 578.4 L129.55 576.98Z" fill="#d62728" stroke="#d62728" stroke-width="1.3" stroke-linejoin="miter"/><path d="M136.57 563.15 L138 564.58 L139.43 563.15 L140.85 564.58 L139.43 566 L140.85 567.42 L139.43 568.85 L138 567.42 L136.57 568.85 L135.15 567.42 L136.57 566 L135.15 564.58Z" fill="#d62728" stroke="#d62728" stroke-width="1.3" stroke-linejoin="miter"/><path d="M142.57 559.55 L144 560.98 L145.43 559.55 L146.85 560.98 L145.43 562.4 L146.85 563.82 L145.43 565.25 L144 563.82 L142.57 565.25 L141.15 563.82 L142.57 562.4 L141.15 560.98Z" fill="#d62728" stroke="#d62728" stroke-width="1.3" stroke-linejoin="miter"/><path d="M147.97 548.55 L149.4 549.98 L150.83 548.55 L152.25 549.98 L150.83 551.4 L152.25 552.82 L150.83 554.25 L149.4 552.82 L147.97 554.25 L146.55 552.82 L147.97 551.4 L146.55 549.98Z" fill="#d62728" stroke="#d62728" stroke-width="1.3" stroke-linejoin="miter"/><path d="M154.07 542.15 L155.5 543.58 L156.93 542.15 L158.35 543.58 L156.93 545 L158.35 546.42 L156.93 547.85 L155.5 546.42 L154.07 547.85 L152.65 546.42 L154.07 545 L152.65 543.58Z" fill="#d62728" stroke="#d62728" stroke-width="1.3" stroke-linejoin="miter"/><path d="M158.57 540.9 L160 542.33 L161.43 540.9 L162.85 542.33 L161.43 543.75 L162.85 545.17 L161.43 546.6 L160 545.17 L158.57 546.6 L157.15 545.17 L158.57 543.75 L157.15 542.33Z" fill="#d62728" stroke="#d62728" stroke-width="1.3" stroke-linejoin="miter"/><path d="M163.07 540.15 L164.5 541.58 L165.93 540.15 L167.35 541.58 L165.93 543 L167.35 544.42 L165.93 545.85 L164.5 544.42 L163.07 545.85 L161.65 544.42 L163.07 543 L161.65 541.58Z" fill="#d62728" stroke="#d62728" stroke-width="1.3" stroke-linejoin="miter"/><path d="M168.07 534.65 L169.5 536.08 L170.93 534.65 L172.35 536.08 L170.93 537.5 L172.35 538.92 L170.93 540.35 L169.5 538.92 L168.07 540.35 L166.65 538.92 L168.07 537.5 L166.65 536.08Z" fill="#d62728" stroke="#d62728" stroke-width="1.3" stroke-linejoin="miter"/><path d="M171.07 534.65 L172.5 536.08 L173.93 534.65 L175.35 536.08 L173.93 537.5 L175.35 538.92 L173.93 540.35 L172.5 538.92 L171.07 540.35 L169.65 538.92 L171.07 537.5 L169.65 536.08Z" fill="#d62728" stroke="#d62728" stroke-width="1.3" stroke-linejoin="miter"/><path d="M178.07 532.65 L179.5 534.08 L180.93 532.65 L182.35 534.08 L180.93 535.5 L182.35 536.92 L180.93 538.35 L179.5 536.92 L178.07 538.35 L176.65 536.92 L178.07 535.5 L176.65 534.08Z" fill="#d62728" stroke="#d62728" stroke-width="1.3" stroke-linejoin="miter"/><path d="M185.57 531.4 L187 532.83 L188.43 531.4 L189.85 532.83 L188.43 534.25 L189.85 535.67 L188.43 537.1 L187 535.67 L185.57 537.1 L184.15 535.67 L185.57 534.25 L184.15 532.83Z" fill="#d62728" stroke="#d62728" stroke-width="1.3" stroke-linejoin="miter"/><path d="M193.57 528.9 L195 530.33 L196.43 528.9 L197.85 530.33 L196.43 531.75 L197.85 533.17 L196.43 534.6 L195 533.17 L193.57 534.6 L192.15 533.17 L193.57 531.75 L192.15 530.33Z" fill="#d62728" stroke="#d62728" stroke-width="1.3" stroke-linejoin="miter"/><path d="M202.32 531.65 L203.75 533.08 L205.18 531.65 L206.6 533.08 L205.18 534.5 L206.6 535.92 L205.18 537.35 L203.75 535.92 L202.32 537.35 L200.9 535.92 L202.32 534.5 L200.9 533.08Z" fill="#d62728" stroke="#d62728" stroke-width="1.3" stroke-linejoin="miter"/><path d="M209.82 523.9 L211.25 525.33 L212.68 523.9 L214.1 525.33 L212.68 526.75 L214.1 528.17 L212.68 529.6 L211.25 528.17 L209.82 529.6 L208.4 528.17 L209.82 526.75 L208.4 525.33Z" fill="#d62728" stroke="#d62728" stroke-width="1.3" stroke-linejoin="miter"/><path d="M219.82 525.9 L221.25 527.33 L222.68 525.9 L224.1 527.33 L222.68 528.75 L224.1 530.17 L222.68 531.6 L221.25 530.17 L219.82 531.6 L218.4 530.17 L219.82 528.75 L218.4 527.33Z" fill="#d62728" stroke="#d62728" stroke-width="1.3" stroke-linejoin="miter"/><path d="M229.07 519.15 L230.5 520.58 L231.93 519.15 L233.35 520.58 L231.93 522 L233.35 523.42 L231.93 524.85 L230.5 523.42 L229.07 524.85 L227.65 523.42 L229.07 522 L227.65 520.58Z" fill="#d62728" stroke="#d62728" stroke-width="1.3" stroke-linejoin="miter"/><path d="M238.07 514.15 L239.5 515.58 L240.93 514.15 L242.35 515.58 L240.93 517 L242.35 518.42 L240.93 519.85 L239.5 518.42 L238.07 519.85 L236.65 518.42 L238.07 517 L236.65 515.58Z" fill="#d62728" stroke="#d62728" stroke-width="1.3" stroke-linejoin="miter"/><path d="M248.07 503.4 L249.5 504.82 L250.93 503.4 L252.35 504.82 L250.93 506.25 L252.35 507.68 L250.93 509.1 L249.5 507.68 L248.07 509.1 L246.65 507.68 L248.07 506.25 L246.65 504.82Z" fill="#d62728" stroke="#d62728" stroke-width="1.3" stroke-linejoin="miter"/><path d="M258.57 498.4 L260 499.82 L261.43 498.4 L262.85 499.82 L261.43 501.25 L262.85 502.68 L261.43 504.1 L260 502.68 L258.57 504.1 L257.15 502.68 L258.57 501.25 L257.15 499.82Z" fill="#d62728" stroke="#d62728" stroke-width="1.3" stroke-linejoin="miter"/><path d="M269.82 493.4 L271.25 494.82 L272.68 493.4 L274.1 494.82 L272.68 496.25 L274.1 497.68 L272.68 499.1 L271.25 497.68 L269.82 499.1 L268.4 497.68 L269.82 496.25 L268.4 494.82Z" fill="#d62728" stroke="#d62728" stroke-width="1.3" stroke-linejoin="miter"/><path d="M281.07 489.65 L282.5 491.07 L283.93 489.65 L285.35 491.07 L283.93 492.5 L285.35 493.93 L283.93 495.35 L282.5 493.93 L281.07 495.35 L279.65 493.93 L281.07 492.5 L279.65 491.07Z" fill="#d62728" stroke="#d62728" stroke-width="1.3" stroke-linejoin="miter"/><path d="M292.32 479.65 L293.75 481.07 L295.18 479.65 L296.6 481.07 L295.18 482.5 L296.6 483.93 L295.18 485.35 L293.75 483.93 L292.32 485.35 L290.9 483.93 L292.32 482.5 L290.9 481.07Z" fill="#d62728" stroke="#d62728" stroke-width="1.3" stroke-linejoin="miter"/><path d="M304.07 469.65 L305.5 471.07 L306.93 469.65 L308.35 471.07 L306.93 472.5 L308.35 473.93 L306.93 475.35 L305.5 473.93 L304.07 475.35 L302.65 473.93 L304.07 472.5 L302.65 471.07Z" fill="#d62728" stroke="#d62728" stroke-width="1.3" stroke-linejoin="miter"/><path d="M316.07 463.4 L317.5 464.82 L318.93 463.4 L320.35 464.82 L318.93 466.25 L320.35 467.68 L318.93 469.1 L317.5 467.68 L316.07 469.1 L314.65 467.68 L316.07 466.25 L314.65 464.82Z" fill="#d62728" stroke="#d62728" stroke-width="1.3" stroke-linejoin="miter"/><rect x="78.9" y="699.3" width="6.8" height="6.8" fill="#9467bd"/><rect x="89" y="685.9" width="6.8" height="6.8" fill="#9467bd"/><rect x="100.2" y="660.3" width="6.8" height="6.8" fill="#9467bd"/><rect x="111.9" y="641" width="6.8" height="6.8" fill="#9467bd"/><rect x="124.6" y="617.2" width="6.8" height="6.8" fill="#9467bd"/><rect x="138.2" y="585.6" width="6.8" height="6.8" fill="#9467bd"/><rect x="153.6" y="564.6" width="6.8" height="6.8" fill="#9467bd"/><rect x="165.5" y="552.1" width="6.8" height="6.8" fill="#9467bd"/><rect x="176.3" y="545.85" width="6.8" height="6.8" fill="#9467bd"/><rect x="186.6" y="537.85" width="6.8" height="6.8" fill="#9467bd"/><rect x="195.3" y="535.85" width="6.8" height="6.8" fill="#9467bd"/><rect x="206.6" y="534.6" width="6.8" height="6.8" fill="#9467bd"/><rect x="217.85" y="523.35" width="6.8" height="6.8" fill="#9467bd"/><rect x="229.6" y="509.1" width="6.8" height="6.8" fill="#9467bd"/><rect x="242.1" y="509.6" width="6.8" height="6.8" fill="#9467bd"/><rect x="252.35" y="501.1" width="6.8" height="6.8" fill="#9467bd"/><rect x="263.6" y="490.85" width="6.8" height="6.8" fill="#9467bd"/><rect x="276.6" y="482.35" width="6.8" height="6.8" fill="#9467bd"/><rect x="289.6" y="474.1" width="6.8" height="6.8" fill="#9467bd"/><rect x="311.6" y="464.85" width="6.8" height="6.8" fill="#9467bd"/></g><clipPath id="cb1"><rect x="320.5" y="383.85" width="269" height="326.6"/></clipPath><g clip-path="url(#cb1)"><circle cx="332.6" cy="647.4" r="3.5" fill="#1f77b4"/><circle cx="335.9" cy="636.2" r="3.5" fill="#1f77b4"/><circle cx="339.5" cy="625" r="3.5" fill="#1f77b4"/><circle cx="343.3" cy="609.9" r="3.5" fill="#1f77b4"/><circle cx="347.1" cy="595.6" r="3.5" fill="#1f77b4"/><circle cx="351.1" cy="581.4" r="3.5" fill="#1f77b4"/><circle cx="355" cy="568.3" r="3.5" fill="#1f77b4"/><circle cx="359.2" cy="555.8" r="3.5" fill="#1f77b4"/><circle cx="363.3" cy="544.2" r="3.5" fill="#1f77b4"/><circle cx="367.8" cy="530.3" r="3.5" fill="#1f77b4"/><circle cx="372.5" cy="518" r="3.5" fill="#1f77b4"/><circle cx="377.2" cy="505" r="3.5" fill="#1f77b4"/><circle cx="382" cy="495" r="3.5" fill="#1f77b4"/><circle cx="387" cy="484.5" r="3.5" fill="#1f77b4"/><circle cx="392" cy="475" r="3.5" fill="#1f77b4"/><circle cx="397.5" cy="463.75" r="3.5" fill="#1f77b4"/><circle cx="403" cy="455.75" r="3.5" fill="#1f77b4"/><circle cx="408.75" cy="446.25" r="3.5" fill="#1f77b4"/><circle cx="415" cy="441.25" r="3.5" fill="#1f77b4"/><circle cx="420.75" cy="433.75" r="3.5" fill="#1f77b4"/><circle cx="427" cy="430.75" r="3.5" fill="#1f77b4"/><circle cx="433.75" cy="431.25" r="3.5" fill="#1f77b4"/><circle cx="441.25" cy="429.25" r="3.5" fill="#1f77b4"/><circle cx="449.25" cy="427" r="3.5" fill="#1f77b4"/><circle cx="457.5" cy="427" r="3.5" fill="#1f77b4"/><circle cx="465.75" cy="431.25" r="3.5" fill="#1f77b4"/><circle cx="473" cy="430" r="3.5" fill="#1f77b4"/><circle cx="481.75" cy="435" r="3.5" fill="#1f77b4"/><circle cx="491.25" cy="440.5" r="3.5" fill="#1f77b4"/><circle cx="500.5" cy="443.75" r="3.5" fill="#1f77b4"/><circle cx="510" cy="447" r="3.5" fill="#1f77b4"/><circle cx="519.25" cy="446.25" r="3.5" fill="#1f77b4"/><circle cx="528.5" cy="443.2" r="3.5" fill="#1f77b4"/><circle cx="539.2" cy="440.8" r="3.5" fill="#1f77b4"/><circle cx="549.2" cy="435" r="3.5" fill="#1f77b4"/><circle cx="560" cy="430" r="3.5" fill="#1f77b4"/><circle cx="566.7" cy="428.8" r="3.5" fill="#1f77b4"/><path d="M327.2 671.6H334.2L330.7 678.6Z" fill="#ff7f0e"/><path d="M330.7 661.2H337.7L334.2 668.2Z" fill="#ff7f0e"/><path d="M334.3 650H341.3L337.8 657Z" fill="#ff7f0e"/><path d="M338.1 637.9H345.1L341.6 644.9Z" fill="#ff7f0e"/><path d="M342.1 626.6H349.1L345.6 633.6Z" fill="#ff7f0e"/><path d="M346.4 614.5H353.4L349.9 621.5Z" fill="#ff7f0e"/><path d="M350.2 601.5H357.2L353.7 608.5Z" fill="#ff7f0e"/><path d="M354.2 589.5H361.2L357.7 596.5Z" fill="#ff7f0e"/><path d="M358.5 578.5H365.5L362 585.5Z" fill="#ff7f0e"/><path d="M362.8 566.8H369.8L366.3 573.8Z" fill="#ff7f0e"/><path d="M367.3 555.3H374.3L370.8 562.3Z" fill="#ff7f0e"/><path d="M372 545.7H379L375.5 552.7Z" fill="#ff7f0e"/><path d="M376.8 534.8H383.8L380.3 541.8Z" fill="#ff7f0e"/><path d="M381.8 525H388.8L385.3 532Z" fill="#ff7f0e"/><path d="M386.9 516.9H393.9L390.4 523.9Z" fill="#ff7f0e"/><path d="M392.3 508.5H399.3L395.8 515.5Z" fill="#ff7f0e"/><path d="M397.8 500.5H404.8L401.3 507.5Z" fill="#ff7f0e"/><path d="M403.3 493.5H410.3L406.8 500.5Z" fill="#ff7f0e"/><path d="M409.2 488.1H416.2L412.7 495.1Z" fill="#ff7f0e"/><path d="M415.25 478.5H422.25L418.75 485.5Z" fill="#ff7f0e"/><path d="M422 472H429L425.5 479Z" fill="#ff7f0e"/><path d="M428.5 466H435.5L432 473Z" fill="#ff7f0e"/><path d="M436 457.75H443L439.5 464.75Z" fill="#ff7f0e"/><path d="M444 452H451L447.5 459Z" fill="#ff7f0e"/><path d="M452.25 444.75H459.25L455.75 451.75Z" fill="#ff7f0e"/><path d="M461 444H468L464.5 451Z" fill="#ff7f0e"/><path d="M469 444.5H476L472.5 451.5Z" fill="#ff7f0e"/><path d="M477.75 453.5H484.75L481.25 460.5Z" fill="#ff7f0e"/><path d="M487 459H494L490.5 466Z" fill="#ff7f0e"/><path d="M497 459H504L500.5 466Z" fill="#ff7f0e"/><path d="M506.5 456H513.5L510 463Z" fill="#ff7f0e"/><path d="M514.3 454.1H521.3L517.8 461.1Z" fill="#ff7f0e"/><path d="M523.5 451.2H530.5L527 458.2Z" fill="#ff7f0e"/><path d="M532.8 448.2H539.8L536.3 455.2Z" fill="#ff7f0e"/><path d="M542.3 439H549.3L545.8 446Z" fill="#ff7f0e"/><path d="M548.5 440.7H555.5L552 447.7Z" fill="#ff7f0e"/><path d="M586.8 418.2H593.8L590.3 425.2Z" fill="#ff7f0e"/><path d="M328.1 685.5H335.1L331.6 678.5Z" fill="#2ca02c"/><path d="M331.2 676H338.2L334.7 669Z" fill="#2ca02c"/><path d="M335.2 664.7H342.2L338.7 657.7Z" fill="#2ca02c"/><path d="M338.6 654H345.6L342.1 647Z" fill="#2ca02c"/><path d="M342.4 643.1H349.4L345.9 636.1Z" fill="#2ca02c"/><path d="M346.4 634H353.4L349.9 627Z" fill="#2ca02c"/><path d="M350.5 622.9H357.5L354 615.9Z" fill="#2ca02c"/><path d="M354.2 612.5H361.2L357.7 605.5Z" fill="#2ca02c"/><path d="M358.9 602.2H365.9L362.4 595.2Z" fill="#2ca02c"/><path d="M362.8 590.4H369.8L366.3 583.4Z" fill="#2ca02c"/><path d="M367 581H374L370.5 574Z" fill="#2ca02c"/><path d="M371.8 569.8H378.8L375.3 562.8Z" fill="#2ca02c"/><path d="M376.5 561.8H383.5L380 554.8Z" fill="#2ca02c"/><path d="M381.5 551H388.5L385 544Z" fill="#2ca02c"/><path d="M386.8 543.5H393.8L390.3 536.5Z" fill="#2ca02c"/><path d="M392.3 536H399.3L395.8 529Z" fill="#2ca02c"/><path d="M397.7 528.7H404.7L401.2 521.7Z" fill="#2ca02c"/><path d="M403.7 520.1H410.7L407.2 513.1Z" fill="#2ca02c"/><path d="M409.5 513H416.5L413 506Z" fill="#2ca02c"/><path d="M415.3 508H422.3L418.8 501Z" fill="#2ca02c"/><path d="M422 499H429L425.5 492Z" fill="#2ca02c"/><path d="M428.5 494H435.5L432 487Z" fill="#2ca02c"/><path d="M436 487.75H443L439.5 480.75Z" fill="#2ca02c"/><path d="M444 481.5H451L447.5 474.5Z" fill="#2ca02c"/><path d="M452.75 477.75H459.75L456.25 470.75Z" fill="#2ca02c"/><path d="M461 471.5H468L464.5 464.5Z" fill="#2ca02c"/><path d="M469.5 472.25H476.5L473 465.25Z" fill="#2ca02c"/><path d="M478.25 471H485.25L481.75 464Z" fill="#2ca02c"/><path d="M487 473.5H494L490.5 466.5Z" fill="#2ca02c"/><path d="M497 470.5H504L500.5 463.5Z" fill="#2ca02c"/><path d="M506.5 467.25H513.5L510 460.25Z" fill="#2ca02c"/><path d="M515.25 461H522.25L518.75 454Z" fill="#2ca02c"/><path d="M523.8 457H530.8L527.3 450Z" fill="#2ca02c"/><path d="M533.5 450.2H540.5L537 443.2Z" fill="#2ca02c"/><path d="M543.2 443.2H550.2L546.7 436.2Z" fill="#2ca02c"/><path d="M549.8 437.7H556.8L553.3 430.7Z" fill="#2ca02c"/><path d="M330.18 683.45 L331.6 684.88 L333.03 683.45 L334.45 684.88 L333.03 686.3 L334.45 687.72 L333.03 689.15 L331.6 687.72 L330.18 689.15 L328.75 687.72 L330.18 686.3 L328.75 684.88Z" fill="#d62728" stroke="#d62728" stroke-width="1.3" stroke-linejoin="miter"/><path d="M333.27 673.95 L334.7 675.38 L336.12 673.95 L337.55 675.38 L336.12 676.8 L337.55 678.22 L336.12 679.65 L334.7 678.22 L333.27 679.65 L331.85 678.22 L333.27 676.8 L331.85 675.38Z" fill="#d62728" stroke="#d62728" stroke-width="1.3" stroke-linejoin="miter"/><path d="M336.77 663.25 L338.2 664.68 L339.62 663.25 L341.05 664.68 L339.62 666.1 L341.05 667.52 L339.62 668.95 L338.2 667.52 L336.77 668.95 L335.35 667.52 L336.77 666.1 L335.35 664.68Z" fill="#d62728" stroke="#d62728" stroke-width="1.3" stroke-linejoin="miter"/><path d="M340.57 651.45 L342 652.88 L343.43 651.45 L344.85 652.88 L343.43 654.3 L344.85 655.72 L343.43 657.15 L342 655.72 L340.57 657.15 L339.15 655.72 L340.57 654.3 L339.15 652.88Z" fill="#d62728" stroke="#d62728" stroke-width="1.3" stroke-linejoin="miter"/><path d="M344.18 642.45 L345.6 643.88 L347.03 642.45 L348.45 643.88 L347.03 645.3 L348.45 646.72 L347.03 648.15 L345.6 646.72 L344.18 648.15 L342.75 646.72 L344.18 645.3 L342.75 643.88Z" fill="#d62728" stroke="#d62728" stroke-width="1.3" stroke-linejoin="miter"/><path d="M347.97 632.45 L349.4 633.88 L350.82 632.45 L352.25 633.88 L350.82 635.3 L352.25 636.72 L350.82 638.15 L349.4 636.72 L347.97 638.15 L346.55 636.72 L347.97 635.3 L346.55 633.88Z" fill="#d62728" stroke="#d62728" stroke-width="1.3" stroke-linejoin="miter"/><path d="M352.27 622.45 L353.7 623.88 L355.12 622.45 L356.55 623.88 L355.12 625.3 L356.55 626.72 L355.12 628.15 L353.7 626.72 L352.27 628.15 L350.85 626.72 L352.27 625.3 L350.85 623.88Z" fill="#d62728" stroke="#d62728" stroke-width="1.3" stroke-linejoin="miter"/><path d="M356.57 611.75 L358 613.18 L359.43 611.75 L360.85 613.18 L359.43 614.6 L360.85 616.02 L359.43 617.45 L358 616.02 L356.57 617.45 L355.15 616.02 L356.57 614.6 L355.15 613.18Z" fill="#d62728" stroke="#d62728" stroke-width="1.3" stroke-linejoin="miter"/><path d="M360.97 601.85 L362.4 603.28 L363.82 601.85 L365.25 603.28 L363.82 604.7 L365.25 606.12 L363.82 607.55 L362.4 606.12 L360.97 607.55 L359.55 606.12 L360.97 604.7 L359.55 603.28Z" fill="#d62728" stroke="#d62728" stroke-width="1.3" stroke-linejoin="miter"/><path d="M365.27 590.95 L366.7 592.38 L368.12 590.95 L369.55 592.38 L368.12 593.8 L369.55 595.22 L368.12 596.65 L366.7 595.22 L365.27 596.65 L363.85 595.22 L365.27 593.8 L363.85 592.38Z" fill="#d62728" stroke="#d62728" stroke-width="1.3" stroke-linejoin="miter"/><path d="M369.57 583.05 L371 584.48 L372.43 583.05 L373.85 584.48 L372.43 585.9 L373.85 587.32 L372.43 588.75 L371 587.32 L369.57 588.75 L368.15 587.32 L369.57 585.9 L368.15 584.48Z" fill="#d62728" stroke="#d62728" stroke-width="1.3" stroke-linejoin="miter"/><path d="M374.07 575.15 L375.5 576.58 L376.93 575.15 L378.35 576.58 L376.93 578 L378.35 579.42 L376.93 580.85 L375.5 579.42 L374.07 580.85 L372.65 579.42 L374.07 578 L372.65 576.58Z" fill="#d62728" stroke="#d62728" stroke-width="1.3" stroke-linejoin="miter"/><path d="M378.88 565.95 L380.3 567.38 L381.73 565.95 L383.15 567.38 L381.73 568.8 L383.15 570.22 L381.73 571.65 L380.3 570.22 L378.88 571.65 L377.45 570.22 L378.88 568.8 L377.45 567.38Z" fill="#d62728" stroke="#d62728" stroke-width="1.3" stroke-linejoin="miter"/><path d="M383.88 556.85 L385.3 558.28 L386.73 556.85 L388.15 558.28 L386.73 559.7 L388.15 561.12 L386.73 562.55 L385.3 561.12 L383.88 562.55 L382.45 561.12 L383.88 559.7 L382.45 558.28Z" fill="#d62728" stroke="#d62728" stroke-width="1.3" stroke-linejoin="miter"/><path d="M389.38 549.15 L390.8 550.58 L392.23 549.15 L393.65 550.58 L392.23 552 L393.65 553.42 L392.23 554.85 L390.8 553.42 L389.38 554.85 L387.95 553.42 L389.38 552 L387.95 550.58Z" fill="#d62728" stroke="#d62728" stroke-width="1.3" stroke-linejoin="miter"/><path d="M394.38 541.35 L395.8 542.78 L397.23 541.35 L398.65 542.78 L397.23 544.2 L398.65 545.62 L397.23 547.05 L395.8 545.62 L394.38 547.05 L392.95 545.62 L394.38 544.2 L392.95 542.78Z" fill="#d62728" stroke="#d62728" stroke-width="1.3" stroke-linejoin="miter"/><path d="M399.88 534.15 L401.3 535.58 L402.73 534.15 L404.15 535.58 L402.73 537 L404.15 538.42 L402.73 539.85 L401.3 538.42 L399.88 539.85 L398.45 538.42 L399.88 537 L398.45 535.58Z" fill="#d62728" stroke="#d62728" stroke-width="1.3" stroke-linejoin="miter"/><path d="M405.57 526.15 L407 527.58 L408.43 526.15 L409.85 527.58 L408.43 529 L409.85 530.42 L408.43 531.85 L407 530.42 L405.57 531.85 L404.15 530.42 L405.57 529 L404.15 527.58Z" fill="#d62728" stroke="#d62728" stroke-width="1.3" stroke-linejoin="miter"/><path d="M411.57 521.15 L413 522.58 L414.43 521.15 L415.85 522.58 L414.43 524 L415.85 525.42 L414.43 526.85 L413 525.42 L411.57 526.85 L410.15 525.42 L411.57 524 L410.15 522.58Z" fill="#d62728" stroke="#d62728" stroke-width="1.3" stroke-linejoin="miter"/><path d="M417.38 513.85 L418.8 515.28 L420.23 513.85 L421.65 515.28 L420.23 516.7 L421.65 518.12 L420.23 519.55 L418.8 518.12 L417.38 519.55 L415.95 518.12 L417.38 516.7 L415.95 515.28Z" fill="#d62728" stroke="#d62728" stroke-width="1.3" stroke-linejoin="miter"/><path d="M424.07 508.4 L425.5 509.82 L426.93 508.4 L428.35 509.82 L426.93 511.25 L428.35 512.67 L426.93 514.1 L425.5 512.67 L424.07 514.1 L422.65 512.67 L424.07 511.25 L422.65 509.82Z" fill="#d62728" stroke="#d62728" stroke-width="1.3" stroke-linejoin="miter"/><path d="M430.57 499.65 L432 501.07 L433.43 499.65 L434.85 501.07 L433.43 502.5 L434.85 503.93 L433.43 505.35 L432 503.93 L430.57 505.35 L429.15 503.93 L430.57 502.5 L429.15 501.07Z" fill="#d62728" stroke="#d62728" stroke-width="1.3" stroke-linejoin="miter"/><path d="M438.07 495.15 L439.5 496.57 L440.93 495.15 L442.35 496.57 L440.93 498 L442.35 499.43 L440.93 500.85 L439.5 499.43 L438.07 500.85 L436.65 499.43 L438.07 498 L436.65 496.57Z" fill="#d62728" stroke="#d62728" stroke-width="1.3" stroke-linejoin="miter"/><path d="M446.07 487.9 L447.5 489.32 L448.93 487.9 L450.35 489.32 L448.93 490.75 L450.35 492.18 L448.93 493.6 L447.5 492.18 L446.07 493.6 L444.65 492.18 L446.07 490.75 L444.65 489.32Z" fill="#d62728" stroke="#d62728" stroke-width="1.3" stroke-linejoin="miter"/><path d="M454.32 482.15 L455.75 483.57 L457.18 482.15 L458.6 483.57 L457.18 485 L458.6 486.43 L457.18 487.85 L455.75 486.43 L454.32 487.85 L452.9 486.43 L454.32 485 L452.9 483.57Z" fill="#d62728" stroke="#d62728" stroke-width="1.3" stroke-linejoin="miter"/><path d="M463.07 475.15 L464.5 476.57 L465.93 475.15 L467.35 476.57 L465.93 478 L467.35 479.43 L465.93 480.85 L464.5 479.43 L463.07 480.85 L461.65 479.43 L463.07 478 L461.65 476.57Z" fill="#d62728" stroke="#d62728" stroke-width="1.3" stroke-linejoin="miter"/><path d="M471.57 469.65 L473 471.07 L474.43 469.65 L475.85 471.07 L474.43 472.5 L475.85 473.93 L474.43 475.35 L473 473.93 L471.57 475.35 L470.15 473.93 L471.57 472.5 L470.15 471.07Z" fill="#d62728" stroke="#d62728" stroke-width="1.3" stroke-linejoin="miter"/><path d="M480.32 469.65 L481.75 471.07 L483.18 469.65 L484.6 471.07 L483.18 472.5 L484.6 473.93 L483.18 475.35 L481.75 473.93 L480.32 475.35 L478.9 473.93 L480.32 472.5 L478.9 471.07Z" fill="#d62728" stroke="#d62728" stroke-width="1.3" stroke-linejoin="miter"/><path d="M489.07 467.9 L490.5 469.32 L491.93 467.9 L493.35 469.32 L491.93 470.75 L493.35 472.18 L491.93 473.6 L490.5 472.18 L489.07 473.6 L487.65 472.18 L489.07 470.75 L487.65 469.32Z" fill="#d62728" stroke="#d62728" stroke-width="1.3" stroke-linejoin="miter"/><path d="M498.57 466.65 L500 468.07 L501.43 466.65 L502.85 468.07 L501.43 469.5 L502.85 470.93 L501.43 472.35 L500 470.93 L498.57 472.35 L497.15 470.93 L498.57 469.5 L497.15 468.07Z" fill="#d62728" stroke="#d62728" stroke-width="1.3" stroke-linejoin="miter"/><path d="M508.07 460.9 L509.5 462.32 L510.93 460.9 L512.35 462.32 L510.93 463.75 L512.35 465.18 L510.93 466.6 L509.5 465.18 L508.07 466.6 L506.65 465.18 L508.07 463.75 L506.65 462.32Z" fill="#d62728" stroke="#d62728" stroke-width="1.3" stroke-linejoin="miter"/><path d="M516.08 457.15 L517.5 458.57 L518.92 457.15 L520.35 458.57 L518.92 460 L520.35 461.43 L518.92 462.85 L517.5 461.43 L516.08 462.85 L514.65 461.43 L516.08 460 L514.65 458.57Z" fill="#d62728" stroke="#d62728" stroke-width="1.3" stroke-linejoin="miter"/><path d="M526.08 456.65 L527.5 458.07 L528.92 456.65 L530.35 458.07 L528.92 459.5 L530.35 460.93 L528.92 462.35 L527.5 460.93 L526.08 462.35 L524.65 460.93 L526.08 459.5 L524.65 458.07Z" fill="#d62728" stroke="#d62728" stroke-width="1.3" stroke-linejoin="miter"/><path d="M535.28 446.85 L536.7 448.27 L538.12 446.85 L539.55 448.27 L538.12 449.7 L539.55 451.12 L538.12 452.55 L536.7 451.12 L535.28 452.55 L533.85 451.12 L535.28 449.7 L533.85 448.27Z" fill="#d62728" stroke="#d62728" stroke-width="1.3" stroke-linejoin="miter"/><path d="M542.78 440.45 L544.2 441.88 L545.62 440.45 L547.05 441.88 L545.62 443.3 L547.05 444.73 L545.62 446.15 L544.2 444.73 L542.78 446.15 L541.35 444.73 L542.78 443.3 L541.35 441.88Z" fill="#d62728" stroke="#d62728" stroke-width="1.3" stroke-linejoin="miter"/><path d="M550.28 435.85 L551.7 437.27 L553.12 435.85 L554.55 437.27 L553.12 438.7 L554.55 440.12 L553.12 441.55 L551.7 440.12 L550.28 441.55 L548.85 440.12 L550.28 438.7 L548.85 437.27Z" fill="#d62728" stroke="#d62728" stroke-width="1.3" stroke-linejoin="miter"/><path d="M589.18 418.85 L590.6 420.27 L592.02 418.85 L593.45 420.27 L592.02 421.7 L593.45 423.12 L592.02 424.55 L590.6 423.12 L589.18 424.55 L587.75 423.12 L589.18 421.7 L587.75 420.27Z" fill="#d62728" stroke="#d62728" stroke-width="1.3" stroke-linejoin="miter"/><rect x="323" y="692.4" width="6.8" height="6.8" fill="#9467bd"/><rect x="330.4" y="670.8" width="6.8" height="6.8" fill="#9467bd"/><rect x="338.7" y="650.9" width="6.8" height="6.8" fill="#9467bd"/><rect x="347.4" y="629.3" width="6.8" height="6.8" fill="#9467bd"/><rect x="357.6" y="609.4" width="6.8" height="6.8" fill="#9467bd"/><rect x="367.9" y="594.8" width="6.8" height="6.8" fill="#9467bd"/><rect x="378.8" y="572.1" width="6.8" height="6.8" fill="#9467bd"/><rect x="391.1" y="554.4" width="6.8" height="6.8" fill="#9467bd"/><rect x="404.1" y="542.9" width="6.8" height="6.8" fill="#9467bd"/><rect x="416.3" y="529.6" width="6.8" height="6.8" fill="#9467bd"/><rect x="429.85" y="516.1" width="6.8" height="6.8" fill="#9467bd"/><rect x="434.6" y="512.1" width="6.8" height="6.8" fill="#9467bd"/><rect x="449.1" y="495.35" width="6.8" height="6.8" fill="#9467bd"/><rect x="462.35" y="487.85" width="6.8" height="6.8" fill="#9467bd"/><rect x="475.35" y="481.1" width="6.8" height="6.8" fill="#9467bd"/><rect x="489.6" y="473.6" width="6.8" height="6.8" fill="#9467bd"/><rect x="504.4" y="466" width="6.8" height="6.8" fill="#9467bd"/><rect x="519.8" y="456.4" width="6.8" height="6.8" fill="#9467bd"/><rect x="544.1" y="442.9" width="6.8" height="6.8" fill="#9467bd"/><rect x="562.9" y="437.1" width="6.8" height="6.8" fill="#9467bd"/><rect x="582.8" y="426.3" width="6.8" height="6.8" fill="#9467bd"/></g><path d="M141 710.45v-3.5M141 383.85v3.5M230.6 710.45v-3.5M230.6 383.85v3.5M51.45 628.5h3.5M320.5 628.5h-3.5M51.45 547h3.5M320.5 547h-3.5M51.45 465.5h3.5M320.5 465.5h-3.5" stroke="#3d3d3d" stroke-width="1.15" fill="none"/><path d="M409.9 710.45v-3.5M409.9 383.85v3.5M499.6 710.45v-3.5M499.6 383.85v3.5M320.5 628.5h3.5M589.5 628.5h-3.5M320.5 547h3.5M589.5 547h-3.5M320.5 465.5h3.5M589.5 465.5h-3.5" stroke="#3d3d3d" stroke-width="1.15" fill="none"/><rect x="51.45" y="383.85" width="269.05" height="326.6" fill="none" stroke="#3d3d3d" stroke-width="1.15"/><rect x="320.5" y="383.85" width="269" height="326.6" fill="none" stroke="#3d3d3d" stroke-width="1.15"/><text transform="translate(51.5 725) scale(1.08 1)" font-size="14.5" text-anchor="middle" >0.5</text><text transform="translate(141 725) scale(1.08 1)" font-size="14.5" text-anchor="middle" >1.0</text><text transform="translate(230.6 725) scale(1.08 1)" font-size="14.5" text-anchor="middle" >1.5</text><text transform="translate(320.5 725) scale(1.08 1)" font-size="14.5" text-anchor="middle" >0.5</text><text transform="translate(409.9 725) scale(1.08 1)" font-size="14.5" text-anchor="middle" >1.0</text><text transform="translate(499.6 725) scale(1.08 1)" font-size="14.5" text-anchor="middle" >1.5</text><text transform="translate(589.5 725) scale(1.08 1)" font-size="14.5" text-anchor="middle" >2.0</text><text transform="translate(47.4 715.4) scale(1.08 1)" font-size="14.5" text-anchor="end" >2.0</text><text transform="translate(47.4 633.9) scale(1.08 1)" font-size="14.5" text-anchor="end" >2.5</text><text transform="translate(47.4 552.4) scale(1.08 1)" font-size="14.5" text-anchor="end" >3.0</text><text transform="translate(47.4 470.9) scale(1.08 1)" font-size="14.5" text-anchor="end" >3.5</text><text transform="translate(47.4 389.4) scale(1.08 1)" font-size="14.5" text-anchor="end" >4.0</text><text x="184.3" y="749" font-size="19.3" text-anchor="middle" ><tspan font-style="italic">T</tspan><tspan dx="-0.6"> (K)</tspan></text><text x="453.3" y="749" font-size="19.3" text-anchor="middle" ><tspan font-style="italic">T</tspan><tspan dx="-0.6"> (K)</tspan></text><text transform="translate(16.7 547.1) rotate(-90) scale(1.095 1)" font-size="18.5" text-anchor="middle"><tspan font-style="italic">κ</tspan>/<tspan font-style="italic">T</tspan> (mW/K<tspan font-size="13" dy="-7">2</tspan><tspan dy="7">cm)</tspan></text><text x="70" y="417" font-size="18.5">S1 (<tspan font-style="italic">j</tspan> |<tspan dx="-1.3">|</tspan> <tspan font-style="italic">H</tspan> |<tspan dx="-1.3">|</tspan> <tspan font-style="italic">a</tspan>)</text><text x="338" y="416" font-size="18.5" textLength="126.5" lengthAdjust="spacing">S2 (<tspan font-style="italic">j</tspan> |<tspan dx="-1.3">|</tspan> <tspan font-style="italic">b</tspan>, <tspan font-style="italic">H</tspan> |<tspan dx="-1.3">|</tspan> <tspan font-style="italic">a</tspan>)</text><text x="278.3" y="406" font-size="17" text-anchor="start" >(b)</text><text x="559.9" y="404.4" font-size="17" text-anchor="start" >(c)</text><circle cx="242" cy="606.3" r="3.6" fill="#1f77b4"/><path d="M238.5 623.5H245.5L242 630.5Z" fill="#ff7f0e"/><path d="M238.5 651.3H245.5L242 644.3Z" fill="#2ca02c"/><path d="M240.57 666.25 L242 667.68 L243.43 666.25 L244.85 667.68 L243.43 669.1 L244.85 670.52 L243.43 671.95 L242 670.52 L240.57 671.95 L239.15 670.52 L240.57 669.1 L239.15 667.68Z" fill="#d62728" stroke="#d62728" stroke-width="1.3" stroke-linejoin="miter"/><rect x="238.6" y="685.9" width="6.8" height="6.8" fill="#9467bd"/><text transform="translate(268.1 609.9) scale(1.08 1)" font-size="14.5" text-anchor="start" >0.05 T</text><text transform="translate(268.1 630.6) scale(1.08 1)" font-size="14.5" text-anchor="start" >0.2 T</text><text transform="translate(268.1 651.4) scale(1.08 1)" font-size="14.5" text-anchor="start" >0.5 T</text><text transform="translate(268.1 672.7) scale(1.08 1)" font-size="14.5" text-anchor="start" >0.75 T</text><text transform="translate(268.1 692.9) scale(1.08 1)" font-size="14.5" text-anchor="start" >1 T</text><circle cx="511.1" cy="606.3" r="3.6" fill="#1f77b4"/><path d="M507.6 623.5H514.6L511.1 630.5Z" fill="#ff7f0e"/><path d="M507.6 651.3H514.6L511.1 644.3Z" fill="#2ca02c"/><path d="M509.68 666.25 L511.1 667.68 L512.52 666.25 L513.95 667.68 L512.52 669.1 L513.95 670.52 L512.52 671.95 L511.1 670.52 L509.68 671.95 L508.25 670.52 L509.68 669.1 L508.25 667.68Z" fill="#d62728" stroke="#d62728" stroke-width="1.3" stroke-linejoin="miter"/><rect x="507.7" y="685.9" width="6.8" height="6.8" fill="#9467bd"/><text transform="translate(537.1 609.9) scale(1.08 1)" font-size="14.5" text-anchor="start" >0.05 T</text><text transform="translate(537.1 630.6) scale(1.08 1)" font-size="14.5" text-anchor="start" >0.2 T</text><text transform="translate(537.1 651.4) scale(1.08 1)" font-size="14.5" text-anchor="start" >0.5 T</text><text transform="translate(537.1 672.7) scale(1.08 1)" font-size="14.5" text-anchor="start" >0.75 T</text><text transform="translate(537.1 692.9) scale(1.08 1)" font-size="14.5" text-anchor="start" >2 T</text></svg></body></html>
